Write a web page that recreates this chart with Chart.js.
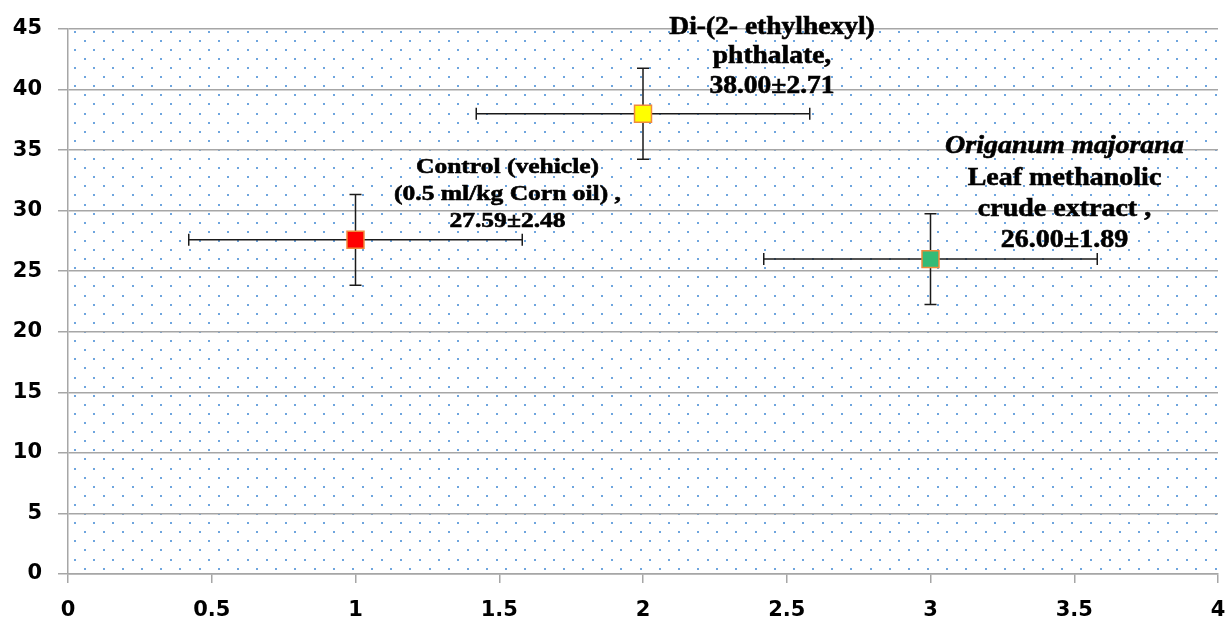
<!DOCTYPE html>
<html>
<head>
<meta charset="utf-8">
<script src="https://cdn.jsdelivr.net/npm/chart.js"></script>
<style>
  html, body { margin: 0; padding: 0; background: #fff; }
  #wrap { width: 1225px; height: 619px; position: relative; }
</style>
</head>
<body>
<div id="wrap"><canvas id="chart"></canvas></div>
<script>
// data
const groups = ["Control (vehicle)", "Di-(2- ethylhexyl) phthalate", "Origanum majorana extract"];
const xValues = [1, 2, 3];
const yValues = [27.59, 38.00, 26.00];
const xErrors = [0.58, 0.58, 0.58];
const yErrors = [3.75, 3.75, 3.75];
const xTickValues = [0, 0.5, 1, 1.5, 2, 2.5, 3, 3.5, 4];
const yTickValues = [0, 5, 10, 15, 20, 25, 30, 35, 40, 45];

const pointLabels = [
  ["Control (vehicle)", "(0.5 ml/kg Corn oil) ,", "27.59±2.48"],
  ["Di-(2- ethylhexyl)", "phthalate,", "38.00±2.71"],
  ["Origanum majorana", "Leaf methanolic", "crude extract ,", "26.00±1.89"]
];
const italicLines = [[], [], [0]];

// styles
const pointColors = ["#ff0000", "#ffff00", "#33bb77"];
const labelStyle = [
  { dx: 152, dy: -13, size: 22, lead: 27, stretch: 1.16 },
  { dx: 129, dy: -21, size: 25, lead: 29.5, stretch: 1.1 },
  { dx: 134, dy: -12, size: 25, lead: 31.3, stretch: 1.12 }
];
const gridColor = "#a6a6a6";
const tickFont = { family: "'DejaVu Sans', Verdana, sans-serif", size: 21, weight: "bold" };

const dotsBackground = {
  id: "dotsBackground",
  beforeDraw(chart) {
    const { ctx, chartArea: a } = chart;
    ctx.save();
    ctx.fillStyle = "rgb(110,165,222)";
    let row = 0;
    for (let y = a.top + 2.7; y < a.bottom - 1; y += 9.1, row++) {
      const x0 = a.left + 7 + (row % 2) * 9.58;
      for (let x = x0; x < a.right - 1; x += 19.17) {
        ctx.fillRect(Math.round(x) - 1, Math.round(y) - 1, 2, 2);
      }
    }
    ctx.restore();
  }
};

const errorBars = {
  id: "errorBars",
  beforeDatasetsDraw(chart) {
    const { ctx, scales: { x, y } } = chart;
    const cap = 6;
    ctx.save();
    ctx.strokeStyle = "#1a1a1a";
    ctx.lineWidth = 1.5;
    xValues.forEach((xv, i) => {
      const yv = yValues[i];
      const px = x.getPixelForValue(xv), py = y.getPixelForValue(yv);
      const xl = x.getPixelForValue(xv - xErrors[i]), xr = x.getPixelForValue(xv + xErrors[i]);
      const yt = y.getPixelForValue(yv + yErrors[i]), yb = y.getPixelForValue(yv - yErrors[i]);
      ctx.beginPath();
      ctx.moveTo(xl, py); ctx.lineTo(xr, py);
      ctx.moveTo(xl, py - cap); ctx.lineTo(xl, py + cap);
      ctx.moveTo(xr, py - cap); ctx.lineTo(xr, py + cap);
      ctx.moveTo(px, yt); ctx.lineTo(px, yb);
      ctx.moveTo(px - cap, yt); ctx.lineTo(px + cap, yt);
      ctx.moveTo(px - cap, yb); ctx.lineTo(px + cap, yb);
      ctx.stroke();
    });
    ctx.restore();
  }
};

const labelPlugin = {
  id: "pointText",
  afterDatasetsDraw(chart) {
    const { ctx } = chart;
    const meta = chart.getDatasetMeta(0);
    meta.data.forEach((pt, i) => {
      const st = labelStyle[i];
      const lines = pointLabels[i];
      const n = lines.length;
      lines.forEach((t, j) => {
        const italic = italicLines[i].includes(j);
        ctx.save();
        ctx.font = (italic ? "italic " : "") + "bold " + st.size + "px 'Liberation Serif', 'Times New Roman', serif";
        ctx.fillStyle = "#000";
        ctx.strokeStyle = "#000";
        ctx.lineWidth = 0.6;
        ctx.textAlign = "center";
        ctx.textBaseline = "alphabetic";
        ctx.translate(pt.x + st.dx, pt.y + st.dy - (n - 1 - j) * st.lead);
        ctx.scale(st.stretch, 1);
        ctx.fillText(t, 0, 0);
        ctx.strokeText(t, 0, 0);
        ctx.restore();
      });
    });
  }
};

new Chart(document.getElementById("chart"), {
  type: "scatter",
  data: {
    labels: groups,
    datasets: [{
      data: xValues.map((x, i) => ({ x: x, y: yValues[i] })),
      pointStyle: "rect",
      pointRadius: 12,
      pointHoverRadius: 12,
      pointBackgroundColor: pointColors,
      pointBorderColor: "#f08a3c",
      pointBorderWidth: 1.5
    }]
  },
  options: {
    responsive: true,
    maintainAspectRatio: false,
    animation: false,
    layout: { autoPadding: false, padding: { top: 29, right: 7, left: 0, bottom: 0 } },
    plugins: { legend: { display: false }, tooltip: { enabled: false } },
    scales: {
      x: {
        type: "linear",
        min: 0,
        max: 4,
        afterBuildTicks: s => { s.ticks = xTickValues.map(v => ({ value: v })); },
        afterFit: s => { s.height = 45; s.paddingLeft = 0; s.paddingRight = 0; },
        grid: { drawOnChartArea: false, drawTicks: true, tickLength: 9, color: gridColor, lineWidth: 1.5 },
        border: { display: true, color: gridColor, width: 1.5 },
        ticks: { color: "#000", font: tickFont, padding: 15, maxRotation: 0, callback: v => String(v) }
      },
      y: {
        min: 0,
        max: 45,
        afterBuildTicks: s => { s.ticks = yTickValues.map(v => ({ value: v })); },
        afterFit: s => { s.width = 68; s.paddingTop = 0; s.paddingBottom = 0; },
        grid: { color: gridColor, lineWidth: 1.5, tickLength: 10 },
        border: { display: true, color: gridColor, width: 1.5 },
        ticks: { color: "#000", font: tickFont, padding: 16, callback: v => String(v) }
      }
    }
  },
  plugins: [dotsBackground, errorBars, labelPlugin]
});
</script>
</body>
</html>
